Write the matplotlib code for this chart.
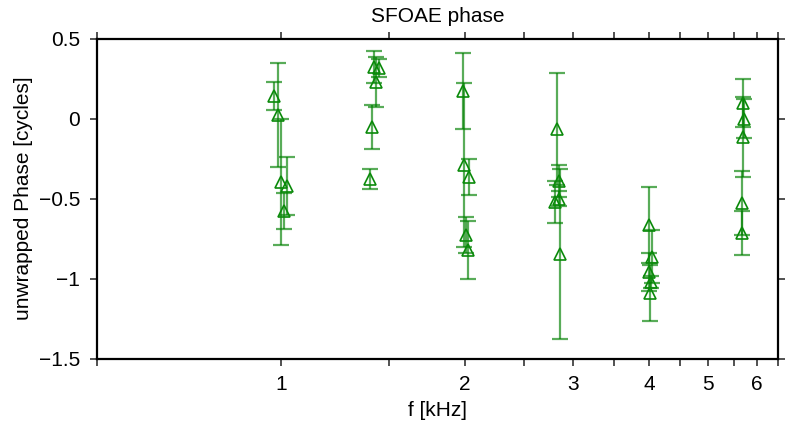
import matplotlib.pyplot as plt
import numpy as np

plt.rcParams["font.family"] = ["Liberation Sans", "DejaVu Sans"]

# frequency [kHz], unwrapped phase [cycles], error [cycles]
freq = [0.974, 0.989, 1.000, 1.023, 1.011,
        1.420, 1.431, 1.447, 1.409, 1.398,
        1.984, 1.993, 2.030, 2.008, 2.020,
        2.830, 2.851, 2.850, 2.810, 2.860,
        4.000, 4.050, 3.990, 4.020, 4.010,
        5.700, 5.720, 5.700, 5.670, 5.670]
phase = [0.141, 0.023, -0.398, -0.422, -0.578,
         0.3225, 0.229, 0.315, -0.052, -0.377,
         0.1725, -0.29, -0.365, -0.7275, -0.821,
         -0.065, -0.39, -0.50, -0.52, -0.846,
         -0.6625, -0.862, -0.958, -1.021, -1.09,
         0.0975, 0.0, -0.115, -0.5275, -0.715]
phase_err = [0.088, 0.325, 0.394, 0.182, 0.114,
             0.100, 0.156, 0.055, 0.1375, 0.0625,
             0.2375, 0.5125, 0.1125, 0.1125, 0.181,
             0.35, 0.10, 0.045, 0.131, 0.531,
             0.237, 0.168, 0.119, 0.04, 0.175,
             0.15, 0.1225, 0.25, 0.2, 0.1375]

xticks = np.arange(0.5, 6.51, 0.5)
xticklabels = ["" if t % 1 else str(int(t)) for t in xticks]
yticks = [-1.5, -1, -0.5, 0, 0.5]
yticklabels = ["\u22121.5", "\u22121", "\u22120.5", "0", "0.5"]

fig = plt.figure(figsize=(7.9, 4.25), dpi=100)
ax = fig.add_axes([0.1225, 0.156, 0.8625, 0.753])

ax.errorbar(freq, phase, yerr=phase_err, fmt="none", ecolor="#008000",
            elinewidth=1.6, capsize=6, capthick=1.6, alpha=0.65)
ax.plot(freq, phase, "^", mfc="none", mec="#0a8a0a", ms=9, mew=1.2)

ax.set_xscale("log")
ax.set_xlim(0.5, 6.5)
ax.set_ylim(-1.5, 0.5)
ax.set_xticks(xticks)
ax.set_xticklabels(xticklabels)
ax.xaxis.set_minor_locator(plt.NullLocator())
ax.set_yticks(yticks)
ax.set_yticklabels(yticklabels)

ax.tick_params(which="both", direction="out", length=5, width=1.2,
               top=True, right=True, labelsize=15, color="#333333", pad=7)
for s in ax.spines.values():
    s.set_linewidth(1.6)

ax.set_xlabel("f [kHz]", fontsize=15, labelpad=5)
ax.set_ylabel("unwrapped Phase [cycles]", fontsize=15, labelpad=4)
ax.set_title("SFOAE phase", fontsize=15, pad=12)

fig.savefig("out.png", dpi=100)
